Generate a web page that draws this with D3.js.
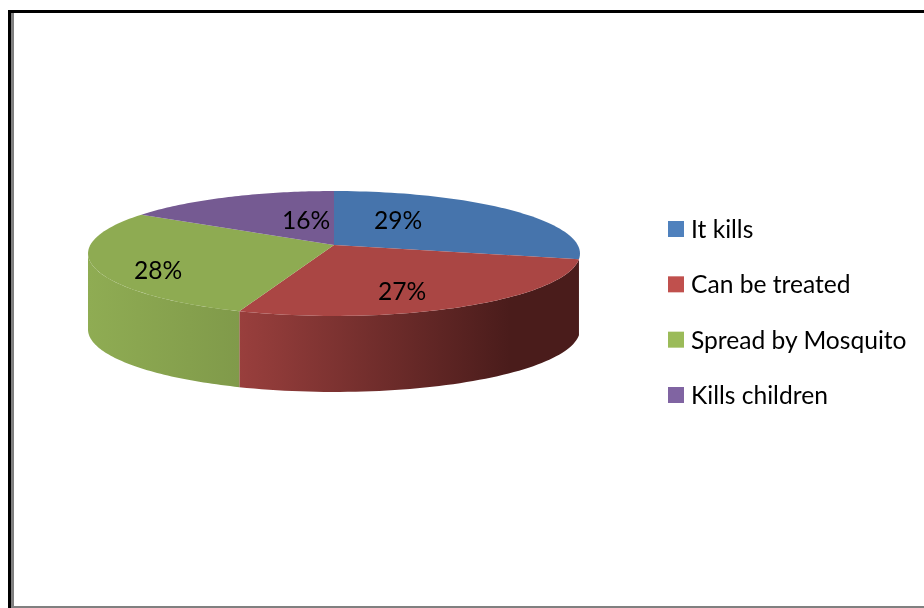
<!DOCTYPE html>
<html><head><meta charset="utf-8">
<script src="https://cdn.jsdelivr.net/npm/d3@7"></script>
<style>html,body{margin:0;padding:0;background:#fff}svg{display:block}</style>
</head><body><svg id="c" width="924" height="608"></svg>
<script>
const categories = ["It kills","Can be treated","Spread by Mosquito","Kills children"];
const values = [28.6,26.9,28.4,16.1];
const labels = ["29%","27%","28%","16%"];
const topColors = ["#4674ac","#aa4644","#8eab52","#755a92"];
const legendColors = ["#4f81bd","#c0504d","#9bbb59","#8064a2"];
const wallStops = [null,["#993f3d","#4a1c1b"],["#8fac53","#809a4a"],null];

const W=924,H=608,cx=334,cy=245,R=243.7,Ry=61.3,k=0.136,depth=76;
const svg=d3.select("#c");
const font="Lato, 'Open Sans', sans-serif";
const project=(t,dy=0)=>{const s=1/(1+k*Math.cos(t));
  return [cx+R*Math.sin(t)*s, cy-Ry*Math.cos(t)*s+dy];};
const arcs=d3.pie().sort(null)(values);
const line=d3.line();
const sample=(a,b,dy=0)=>d3.range(0,61).map(i=>project(a+(b-a)*i/60,dy));
const leftTangent=2*Math.PI-Math.acos(-k);

const defs=svg.append("defs");
defs.append("filter").attr("id","soft").append("feGaussianBlur").attr("stdDeviation",0.45);

svg.append("rect").attr("width",W).attr("height",H).attr("fill","#fff");
// frame
svg.append("rect").attr("x",11).attr("y",13).attr("width",3).attr("height",595).attr("fill","#808080");
svg.append("rect").attr("x",11).attr("y",606).attr("width",913).attr("height",2).attr("fill","#808080");
svg.append("rect").attr("x",8).attr("y",10).attr("width",3).attr("height",598).attr("fill","#000");
svg.append("rect").attr("x",8).attr("y",10).attr("width",916).attr("height",3).attr("fill","#000");

// walls
arcs.forEach((d,i)=>{
  if(!wallStops[i]) return;
  const end=Math.min(d.endAngle,leftTangent);
  const top=sample(d.startAngle,end), bot=sample(end,d.startAngle,depth);
  const xs=top.map(p=>p[0]);
  const id="wall"+i;
  const g=defs.append("linearGradient").attr("id",id).attr("gradientUnits","userSpaceOnUse")
    .attr("x1",d3.min(xs)).attr("x2",i==1?510:d3.max(xs)).attr("y1",0).attr("y2",0);
  g.append("stop").attr("offset",0).attr("stop-color",wallStops[i][0]);
  g.append("stop").attr("offset",1).attr("stop-color",wallStops[i][1]);
  svg.append("path").attr("d",line(top.concat(bot))+"Z").attr("fill",`url(#${id})`);
});
// top faces
arcs.forEach((d,i)=>{
  const pts=[[cx,cy]].concat(sample(d.startAngle,d.endAngle));
  svg.append("path").attr("d",line(pts)+"Z").attr("fill",topColors[i]);
});
// value labels
const labelPos=[[398,229],[402,300],[158,279],[306,229]];
const t=svg.append("g").attr("filter","url(#soft)");
labels.forEach((s,i)=>{
  t.append("text").attr("x",labelPos[i][0]).attr("y",labelPos[i][1]).attr("text-anchor","middle")
   .attr("font-family",font).attr("font-size",24.6).attr("fill","#000").text(s);
});
// legend
const ly=d3.scalePoint().domain(categories).range([229,395]);
categories.forEach((c,i)=>{
  svg.append("rect").attr("x",668).attr("y",ly(c)-8).attr("width",16).attr("height",16).attr("fill",legendColors[i]);
  t.append("text").attr("x",691).attr("y",ly(c)+9).attr("font-family",font).attr("font-size",24.6).attr("fill","#000").text(c);
});
</script></body></html>
